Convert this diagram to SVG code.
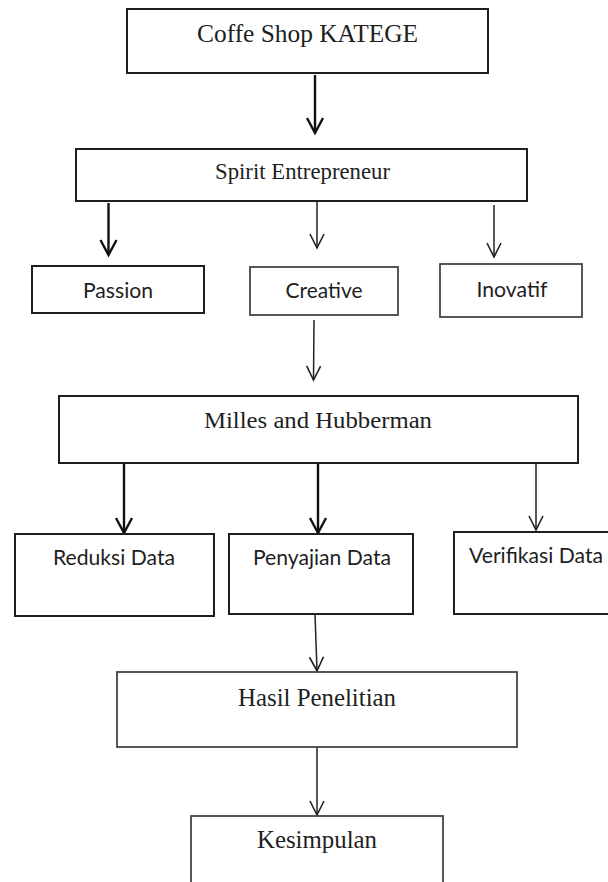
<svg xmlns="http://www.w3.org/2000/svg" width="608" height="882" viewBox="0 0 608 882">
  <style>
    .box { fill: #ffffff; stroke: #1e1e1e; stroke-width: 2; }
    .box-l { fill: #ffffff; stroke: #3a3a3a; stroke-width: 1.7; }
    .serif { font-family: "Liberation Serif", "Times New Roman", serif; fill: #1e1e1e; text-anchor: middle; }
    .sans { font-family: Lato, "Open Sans", "Liberation Sans", sans-serif; fill: #1e1e1e; text-anchor: middle; }
    .thick { stroke: #111; stroke-width: 2.4; fill: none; }
    .thin { stroke: #222; stroke-width: 1.5; fill: none; }
  </style>
  <defs>
    <marker id="headThick" viewBox="-16 -10 18 20" markerWidth="18" markerHeight="20" refX="0" refY="0" orient="auto" markerUnits="userSpaceOnUse" overflow="visible">
      <path d="M-15,-8 L0,0 L-15,8" fill="none" stroke="#111" stroke-width="2.4" stroke-linejoin="miter"/>
    </marker>
    <marker id="headThin" viewBox="-16 -10 18 20" markerWidth="18" markerHeight="20" refX="0" refY="0" orient="auto" markerUnits="userSpaceOnUse" overflow="visible">
      <path d="M-14,-7 L0,0 L-14,7" fill="none" stroke="#222" stroke-width="1.6" stroke-linejoin="miter"/>
    </marker>
  </defs>
  <rect width="608" height="882" fill="#ffffff"/>

  <g id="connectors">
    <line class="thick" x1="315" y1="75" x2="315" y2="133" marker-end="url(#headThick)"/>
    <line class="thick" x1="108.5" y1="203" x2="108.5" y2="255" marker-end="url(#headThick)"/>
    <line class="thin" x1="317" y1="201" x2="317" y2="248" marker-end="url(#headThin)"/>
    <line class="thin" x1="494" y1="205" x2="494" y2="257" marker-end="url(#headThin)"/>
    <line class="thin" x1="314" y1="320" x2="313.5" y2="380" marker-end="url(#headThin)"/>
    <line class="thick" x1="124" y1="463" x2="124" y2="533" marker-end="url(#headThick)"/>
    <line class="thick" x1="318" y1="463" x2="318" y2="533" marker-end="url(#headThick)"/>
    <line class="thin" x1="536" y1="463" x2="536" y2="530" marker-end="url(#headThin)"/>
    <line class="thin" x1="315" y1="614" x2="317" y2="671" marker-end="url(#headThin)"/>
    <line class="thin" x1="317" y1="747" x2="317" y2="815" marker-end="url(#headThin)"/>
  </g>

  <g id="coffee-shop">
    <rect class="box" x="127" y="9" width="361" height="64"/>
    <text class="serif" x="307.5" y="42" font-size="25" textLength="221" lengthAdjust="spacingAndGlyphs">Coffe Shop KATEGE</text>
  </g>
  <g id="spirit">
    <rect class="box" x="76" y="149" width="451" height="52"/>
    <text class="serif" x="302.5" y="179" font-size="23" textLength="175" lengthAdjust="spacingAndGlyphs">Spirit Entrepreneur</text>
  </g>
  <g id="passion">
    <rect class="box" x="32" y="266" width="172" height="47"/>
    <text class="sans" x="118" y="298" font-size="21" textLength="70" lengthAdjust="spacingAndGlyphs">Passion</text>
  </g>
  <g id="creative">
    <rect class="box-l" x="250" y="267" width="148" height="48"/>
    <text class="sans" x="324" y="298" font-size="21" textLength="77" lengthAdjust="spacingAndGlyphs">Creative</text>
  </g>
  <g id="inovatif">
    <rect class="box-l" x="440" y="264" width="142" height="53"/>
    <text class="sans" x="512" y="297" font-size="21" textLength="71" lengthAdjust="spacingAndGlyphs">Inovatif</text>
  </g>
  <g id="milles">
    <rect class="box" x="59" y="396" width="519" height="67"/>
    <text class="serif" x="318" y="428" font-size="24" textLength="228" lengthAdjust="spacingAndGlyphs">Milles and Hubberman</text>
  </g>
  <g id="reduksi">
    <rect class="box" x="15" y="534" width="199" height="82"/>
    <text class="sans" x="114" y="565" font-size="21" textLength="122" lengthAdjust="spacingAndGlyphs">Reduksi Data</text>
  </g>
  <g id="penyajian">
    <rect class="box" x="229" y="534" width="184" height="80"/>
    <text class="sans" x="322" y="565" font-size="21" textLength="138" lengthAdjust="spacingAndGlyphs">Penyajian Data</text>
  </g>
  <g id="verifikasi">
    <rect class="box" x="454" y="532" width="170" height="82"/>
    <text class="sans" x="536" y="563" font-size="21" textLength="134" lengthAdjust="spacingAndGlyphs">Verifikasi Data</text>
  </g>
  <g id="hasil">
    <rect class="box-l" x="117" y="672" width="400" height="75"/>
    <text class="serif" x="317" y="706" font-size="25" textLength="158" lengthAdjust="spacingAndGlyphs">Hasil Penelitian</text>
  </g>
  <g id="kesimpulan">
    <rect class="box-l" x="191" y="816" width="252" height="80"/>
    <text class="serif" x="317" y="848" font-size="25" textLength="120" lengthAdjust="spacingAndGlyphs">Kesimpulan</text>
  </g>
</svg>
